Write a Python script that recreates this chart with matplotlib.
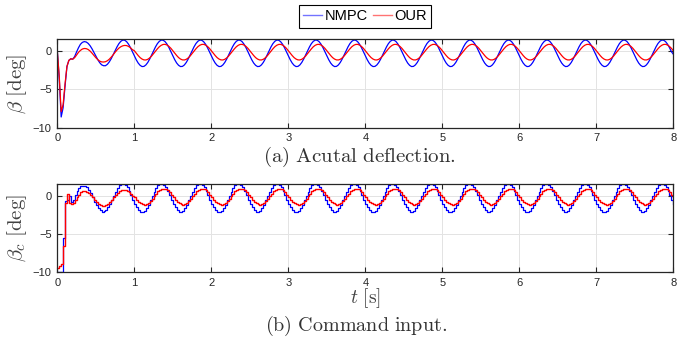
import numpy as np
import matplotlib.pyplot as plt
from matplotlib.lines import Line2D

plt.rcParams['font.family'] = ['Liberation Sans', 'DejaVu Sans']
plt.rcParams['mathtext.fontset'] = 'cm'

dt = 0.025  # sample time [s]

# (a) actual deflection beta [deg], one row per 0.5 s
beta_nmpc = [
    0.0, -3.6, -8.6, -7.4, -4.6, -2.0, -1.2, -1.0, -1.05, -0.7, -0.1, 0.45, 0.9, 1.15, 1.25, 1.2, 1.02, 0.72, 0.32, -0.15,
    -0.65, -1.1, -1.5, -1.78, -1.9, -1.9, -1.72, -1.4, -0.98, -0.48, 0.05, 0.56, 0.99, 1.29, 1.45, 1.43, 1.24, 0.91, 0.46, -0.06,
    -0.61, -1.12, -1.55, -1.85, -2.01, -1.99, -1.80, -1.47, -1.02, -0.50, 0.05, 0.56, 0.99, 1.29, 1.45, 1.43, 1.24, 0.91, 0.46, -0.06,
    -0.61, -1.12, -1.55, -1.85, -2.01, -1.99, -1.80, -1.47, -1.02, -0.50, 0.05, 0.56, 0.99, 1.29, 1.45, 1.43, 1.24, 0.91, 0.46, -0.06,
    -0.61, -1.12, -1.55, -1.85, -2.01, -1.99, -1.80, -1.47, -1.02, -0.50, 0.05, 0.56, 0.99, 1.29, 1.45, 1.43, 1.24, 0.91, 0.46, -0.06,
    -0.61, -1.12, -1.55, -1.85, -2.01, -1.99, -1.80, -1.47, -1.02, -0.50, 0.05, 0.56, 0.99, 1.29, 1.45, 1.43, 1.24, 0.91, 0.46, -0.06,
    -0.61, -1.12, -1.55, -1.85, -2.01, -1.99, -1.80, -1.47, -1.02, -0.50, 0.05, 0.56, 0.99, 1.29, 1.45, 1.43, 1.24, 0.91, 0.46, -0.06,
    -0.61, -1.12, -1.55, -1.85, -2.01, -1.99, -1.80, -1.47, -1.02, -0.50, 0.05, 0.56, 0.99, 1.29, 1.45, 1.43, 1.24, 0.91, 0.46, -0.06,
    -0.61, -1.12, -1.55, -1.85, -2.01, -1.99, -1.80, -1.47, -1.02, -0.50, 0.05, 0.56, 0.99, 1.29, 1.45, 1.43, 1.24, 0.91, 0.46, -0.06,
    -0.61, -1.12, -1.55, -1.85, -2.01, -1.99, -1.80, -1.47, -1.02, -0.50, 0.05, 0.56, 0.99, 1.29, 1.45, 1.43, 1.24, 0.91, 0.46, -0.06,
    -0.61, -1.12, -1.55, -1.85, -2.01, -1.99, -1.80, -1.47, -1.02, -0.50, 0.05, 0.56, 0.99, 1.29, 1.45, 1.43, 1.24, 0.91, 0.46, -0.06,
    -0.61, -1.12, -1.55, -1.85, -2.01, -1.99, -1.80, -1.47, -1.02, -0.50, 0.05, 0.56, 0.99, 1.29, 1.45, 1.43, 1.24, 0.91, 0.46, -0.06,
    -0.61, -1.12, -1.55, -1.85, -2.01, -1.99, -1.80, -1.47, -1.02, -0.50, 0.05, 0.56, 0.99, 1.29, 1.45, 1.43, 1.24, 0.91, 0.46, -0.06,
    -0.61, -1.12, -1.55, -1.85, -2.01, -1.99, -1.80, -1.47, -1.02, -0.50, 0.05, 0.56, 0.99, 1.29, 1.45, 1.43, 1.24, 0.91, 0.46, -0.06,
    -0.61, -1.12, -1.55, -1.85, -2.01, -1.99, -1.80, -1.47, -1.02, -0.50, 0.05, 0.56, 0.99, 1.29, 1.45, 1.43, 1.24, 0.91, 0.46, -0.06,
    -0.61, -1.12, -1.55, -1.85, -2.01, -1.99, -1.80, -1.47, -1.02, -0.50, 0.05, 0.56, 0.99, 1.29, 1.45, 1.43, 1.24, 0.91, 0.46, -0.06,
    -0.4,
]
beta_our = [
    0.0, -3.3, -7.9, -7.0, -4.3, -2.0, -1.2, -1.0, -1.05, -0.85, -0.5, -0.15, 0.1, 0.28, 0.35, 0.33, 0.22, 0.02, -0.25, -0.55,
    -0.85, -1.1, -1.3, -1.4, -1.42, -1.38, -1.25, -1.05, -0.78, -0.48, -0.15, 0.15, 0.4, 0.58, 0.7, 0.75, 0.73, 0.62, 0.45, 0.2,
    0.06, -0.26, -0.57, -0.84, -1.03, -1.14, -1.15, -1.06, -0.88, -0.63, -0.32, 0.00, 0.31, 0.58, 0.77, 0.88, 0.89, 0.80, 0.62, 0.37,
    0.06, -0.26, -0.57, -0.84, -1.03, -1.14, -1.15, -1.06, -0.88, -0.63, -0.32, 0.00, 0.31, 0.58, 0.77, 0.88, 0.89, 0.80, 0.62, 0.37,
    0.06, -0.26, -0.57, -0.84, -1.03, -1.14, -1.15, -1.06, -0.88, -0.63, -0.32, 0.00, 0.31, 0.58, 0.77, 0.88, 0.89, 0.80, 0.62, 0.37,
    0.06, -0.26, -0.57, -0.84, -1.03, -1.14, -1.15, -1.06, -0.88, -0.63, -0.32, 0.00, 0.31, 0.58, 0.77, 0.88, 0.89, 0.80, 0.62, 0.37,
    0.06, -0.26, -0.57, -0.84, -1.03, -1.14, -1.15, -1.06, -0.88, -0.63, -0.32, 0.00, 0.31, 0.58, 0.77, 0.88, 0.89, 0.80, 0.62, 0.37,
    0.06, -0.26, -0.57, -0.84, -1.03, -1.14, -1.15, -1.06, -0.88, -0.63, -0.32, 0.00, 0.31, 0.58, 0.77, 0.88, 0.89, 0.80, 0.62, 0.37,
    0.06, -0.26, -0.57, -0.84, -1.03, -1.14, -1.15, -1.06, -0.88, -0.63, -0.32, 0.00, 0.31, 0.58, 0.77, 0.88, 0.89, 0.80, 0.62, 0.37,
    0.06, -0.26, -0.57, -0.84, -1.03, -1.14, -1.15, -1.06, -0.88, -0.63, -0.32, 0.00, 0.31, 0.58, 0.77, 0.88, 0.89, 0.80, 0.62, 0.37,
    0.06, -0.26, -0.57, -0.84, -1.03, -1.14, -1.15, -1.06, -0.88, -0.63, -0.32, 0.00, 0.31, 0.58, 0.77, 0.88, 0.89, 0.80, 0.62, 0.37,
    0.06, -0.26, -0.57, -0.84, -1.03, -1.14, -1.15, -1.06, -0.88, -0.63, -0.32, 0.00, 0.31, 0.58, 0.77, 0.88, 0.89, 0.80, 0.62, 0.37,
    0.06, -0.26, -0.57, -0.84, -1.03, -1.14, -1.15, -1.06, -0.88, -0.63, -0.32, 0.00, 0.31, 0.58, 0.77, 0.88, 0.89, 0.80, 0.62, 0.37,
    0.06, -0.26, -0.57, -0.84, -1.03, -1.14, -1.15, -1.06, -0.88, -0.63, -0.32, 0.00, 0.31, 0.58, 0.77, 0.88, 0.89, 0.80, 0.62, 0.37,
    0.06, -0.26, -0.57, -0.84, -1.03, -1.14, -1.15, -1.06, -0.88, -0.63, -0.32, 0.00, 0.31, 0.58, 0.77, 0.88, 0.89, 0.80, 0.62, 0.37,
    0.06, -0.26, -0.57, -0.84, -1.03, -1.14, -1.15, -1.06, -0.88, -0.63, -0.32, 0.00, 0.31, 0.58, 0.77, 0.88, 0.89, 0.80, 0.62, 0.37,
    0.06,
]

# (b) command input beta_c [deg], held over each sample
cmd_nmpc = [
    -10.0, -10.0, -10.0, -5.5, -0.7, -0.6, 0.0, -0.8, -0.5, 0.1, 0.6, 1.0, 1.25, 1.3, 1.25, 1.1, 0.8, 0.35, -0.2, -0.75,
    -1.25, -1.65, -1.9, -2.05, -2.0, -1.8, -1.5, -1.05, -0.55, 0.0, 0.54, 1.02, 1.37, 1.57, 1.59, 1.42, 1.10, 0.64, 0.10, -0.48,
    -1.04, -1.52, -1.87, -2.07, -2.09, -1.92, -1.60, -1.14, -0.60, -0.02, 0.54, 1.02, 1.37, 1.57, 1.59, 1.42, 1.10, 0.64, 0.10, -0.48,
    -1.04, -1.52, -1.87, -2.07, -2.09, -1.92, -1.60, -1.14, -0.60, -0.02, 0.54, 1.02, 1.37, 1.57, 1.59, 1.42, 1.10, 0.64, 0.10, -0.48,
    -1.04, -1.52, -1.87, -2.07, -2.09, -1.92, -1.60, -1.14, -0.60, -0.02, 0.54, 1.02, 1.37, 1.57, 1.59, 1.42, 1.10, 0.64, 0.10, -0.48,
    -1.04, -1.52, -1.87, -2.07, -2.09, -1.92, -1.60, -1.14, -0.60, -0.02, 0.54, 1.02, 1.37, 1.57, 1.59, 1.42, 1.10, 0.64, 0.10, -0.48,
    -1.04, -1.52, -1.87, -2.07, -2.09, -1.92, -1.60, -1.14, -0.60, -0.02, 0.54, 1.02, 1.37, 1.57, 1.59, 1.42, 1.10, 0.64, 0.10, -0.48,
    -1.04, -1.52, -1.87, -2.07, -2.09, -1.92, -1.60, -1.14, -0.60, -0.02, 0.54, 1.02, 1.37, 1.57, 1.59, 1.42, 1.10, 0.64, 0.10, -0.48,
    -1.04, -1.52, -1.87, -2.07, -2.09, -1.92, -1.60, -1.14, -0.60, -0.02, 0.54, 1.02, 1.37, 1.57, 1.59, 1.42, 1.10, 0.64, 0.10, -0.48,
    -1.04, -1.52, -1.87, -2.07, -2.09, -1.92, -1.60, -1.14, -0.60, -0.02, 0.54, 1.02, 1.37, 1.57, 1.59, 1.42, 1.10, 0.64, 0.10, -0.48,
    -1.04, -1.52, -1.87, -2.07, -2.09, -1.92, -1.60, -1.14, -0.60, -0.02, 0.54, 1.02, 1.37, 1.57, 1.59, 1.42, 1.10, 0.64, 0.10, -0.48,
    -1.04, -1.52, -1.87, -2.07, -2.09, -1.92, -1.60, -1.14, -0.60, -0.02, 0.54, 1.02, 1.37, 1.57, 1.59, 1.42, 1.10, 0.64, 0.10, -0.48,
    -1.04, -1.52, -1.87, -2.07, -2.09, -1.92, -1.60, -1.14, -0.60, -0.02, 0.54, 1.02, 1.37, 1.57, 1.59, 1.42, 1.10, 0.64, 0.10, -0.48,
    -1.04, -1.52, -1.87, -2.07, -2.09, -1.92, -1.60, -1.14, -0.60, -0.02, 0.54, 1.02, 1.37, 1.57, 1.59, 1.42, 1.10, 0.64, 0.10, -0.48,
    -1.04, -1.52, -1.87, -2.07, -2.09, -1.92, -1.60, -1.14, -0.60, -0.02, 0.54, 1.02, 1.37, 1.57, 1.59, 1.42, 1.10, 0.64, 0.10, -0.48,
    -1.04, -1.52, -1.87, -2.07, -2.09, -1.92, -1.60, -1.14, -0.60, -0.02, 0.54, 1.02, 1.37, 1.57, 1.59, 1.42, 1.10, 0.64, 0.10, -0.48,
    -1.04,
]
cmd_our = [
    -9.4, -9.2, -8.9, -6.6, -0.9, 0.2, -0.9, -1.0, -0.9, -0.55, -0.2, 0.15, 0.45, 0.6, 0.62, 0.55, 0.38, 0.12, -0.2, -0.55,
    -0.85, -1.1, -1.25, -1.32, -1.3, -1.2, -1.02, -0.78, -0.5, -0.2, 0.1, 0.38, 0.6, 0.74, 0.8, 0.78, 0.68, 0.5, 0.27, 0.0,
    -0.16, -0.48, -0.76, -0.98, -1.11, -1.14, -1.07, -0.90, -0.65, -0.35, -0.02, 0.30, 0.58, 0.80, 0.93, 0.96, 0.89, 0.72, 0.47, 0.17,
    -0.16, -0.48, -0.76, -0.98, -1.11, -1.14, -1.07, -0.90, -0.65, -0.35, -0.02, 0.30, 0.58, 0.80, 0.93, 0.96, 0.89, 0.72, 0.47, 0.17,
    -0.16, -0.48, -0.76, -0.98, -1.11, -1.14, -1.07, -0.90, -0.65, -0.35, -0.02, 0.30, 0.58, 0.80, 0.93, 0.96, 0.89, 0.72, 0.47, 0.17,
    -0.16, -0.48, -0.76, -0.98, -1.11, -1.14, -1.07, -0.90, -0.65, -0.35, -0.02, 0.30, 0.58, 0.80, 0.93, 0.96, 0.89, 0.72, 0.47, 0.17,
    -0.16, -0.48, -0.76, -0.98, -1.11, -1.14, -1.07, -0.90, -0.65, -0.35, -0.02, 0.30, 0.58, 0.80, 0.93, 0.96, 0.89, 0.72, 0.47, 0.17,
    -0.16, -0.48, -0.76, -0.98, -1.11, -1.14, -1.07, -0.90, -0.65, -0.35, -0.02, 0.30, 0.58, 0.80, 0.93, 0.96, 0.89, 0.72, 0.47, 0.17,
    -0.16, -0.48, -0.76, -0.98, -1.11, -1.14, -1.07, -0.90, -0.65, -0.35, -0.02, 0.30, 0.58, 0.80, 0.93, 0.96, 0.89, 0.72, 0.47, 0.17,
    -0.16, -0.48, -0.76, -0.98, -1.11, -1.14, -1.07, -0.90, -0.65, -0.35, -0.02, 0.30, 0.58, 0.80, 0.93, 0.96, 0.89, 0.72, 0.47, 0.17,
    -0.16, -0.48, -0.76, -0.98, -1.11, -1.14, -1.07, -0.90, -0.65, -0.35, -0.02, 0.30, 0.58, 0.80, 0.93, 0.96, 0.89, 0.72, 0.47, 0.17,
    -0.16, -0.48, -0.76, -0.98, -1.11, -1.14, -1.07, -0.90, -0.65, -0.35, -0.02, 0.30, 0.58, 0.80, 0.93, 0.96, 0.89, 0.72, 0.47, 0.17,
    -0.16, -0.48, -0.76, -0.98, -1.11, -1.14, -1.07, -0.90, -0.65, -0.35, -0.02, 0.30, 0.58, 0.80, 0.93, 0.96, 0.89, 0.72, 0.47, 0.17,
    -0.16, -0.48, -0.76, -0.98, -1.11, -1.14, -1.07, -0.90, -0.65, -0.35, -0.02, 0.30, 0.58, 0.80, 0.93, 0.96, 0.89, 0.72, 0.47, 0.17,
    -0.16, -0.48, -0.76, -0.98, -1.11, -1.14, -1.07, -0.90, -0.65, -0.35, -0.02, 0.30, 0.58, 0.80, 0.93, 0.96, 0.89, 0.72, 0.47, 0.17,
    -0.16, -0.48, -0.76, -0.98, -1.11, -1.14, -1.07, -0.90, -0.65, -0.35, -0.02, 0.30, 0.58, 0.80, 0.93, 0.96, 0.89, 0.72, 0.47, 0.17,
    -0.16,
]

x_ticks = [0, 1, 2, 3, 4, 5, 6, 7, 8]
y_ticks = [-10, -5, 0]
series_names = ['NMPC', 'OUR']
c_nmpc = '#0000ff'
c_our = '#ff0000'
dark = '#262626'

t = np.arange(len(beta_nmpc)) * dt

fig = plt.figure(figsize=(6.94, 3.43), dpi=100)
ax1 = fig.add_axes([0.0826, 0.6277, 0.8876, 0.2577])
ax2 = fig.add_axes([0.0826, 0.2061, 0.8876, 0.2574])

ax1.plot(t, beta_nmpc, color=c_nmpc, lw=0.9)
ax1.plot(t, beta_our, color=c_our, lw=0.9)
ax2.plot(t, cmd_nmpc, color=c_nmpc, lw=0.9, drawstyle='steps-post')
ax2.plot(t, cmd_our, color=c_our, lw=1.0, drawstyle='steps-post')

for ax in (ax1, ax2):
    ax.set_xlim(0, 8)
    ax.set_ylim(-10, 1.55)
    ax.set_xticks(x_ticks)
    ax.set_yticks(y_ticks)
    ax.grid(True, color='#e3e3e3', lw=0.7)
    ax.set_axisbelow(True)
    ax.tick_params(direction='in', length=3.5, width=0.8, colors=dark,
                   labelsize=8, top=True, right=True, pad=4)
    for s in ax.spines.values():
        s.set_color(dark)
        s.set_linewidth(0.9)
    ax.yaxis.set_label_coords(-0.046, 0.5)

ax1.set_ylabel(r'$\beta\ [\mathrm{deg}]$', fontsize=15, color='#404040')
ax2.set_ylabel(r'$\beta_c\ [\mathrm{deg}]$', fontsize=15, color='#404040')
ax2.set_xlabel(r'$t\ [\mathrm{s}]$', fontsize=14, color='#404040', labelpad=-1)

fig.text(263 / 694, 1 - 157 / 343, r'$\mathrm{(a)\ Acutal\ deflection.}$',
         fontsize=15, color='#333333', ha='left', va='center')
fig.text(265 / 694, 1 - 326 / 343, r'$\mathrm{(b)\ Command\ input.}$',
         fontsize=14.5, color='#333333', ha='left', va='center')

handles = [Line2D([], [], color=c_nmpc, lw=1.0, alpha=0.55),
           Line2D([], [], color=c_our, lw=1.0, alpha=0.55)]
leg = fig.legend(handles, series_names, loc='upper center', ncol=2,
                 bbox_to_anchor=(365 / 694, 1 - 5 / 343), fontsize=10.5,
                 frameon=True, fancybox=False, edgecolor='black', framealpha=1,
                 handlelength=1.3, handletextpad=0.15, columnspacing=0.35,
                 borderpad=0.3, borderaxespad=0)
leg.get_frame().set_linewidth(0.8)

fig.savefig('out.png', dpi=100)
